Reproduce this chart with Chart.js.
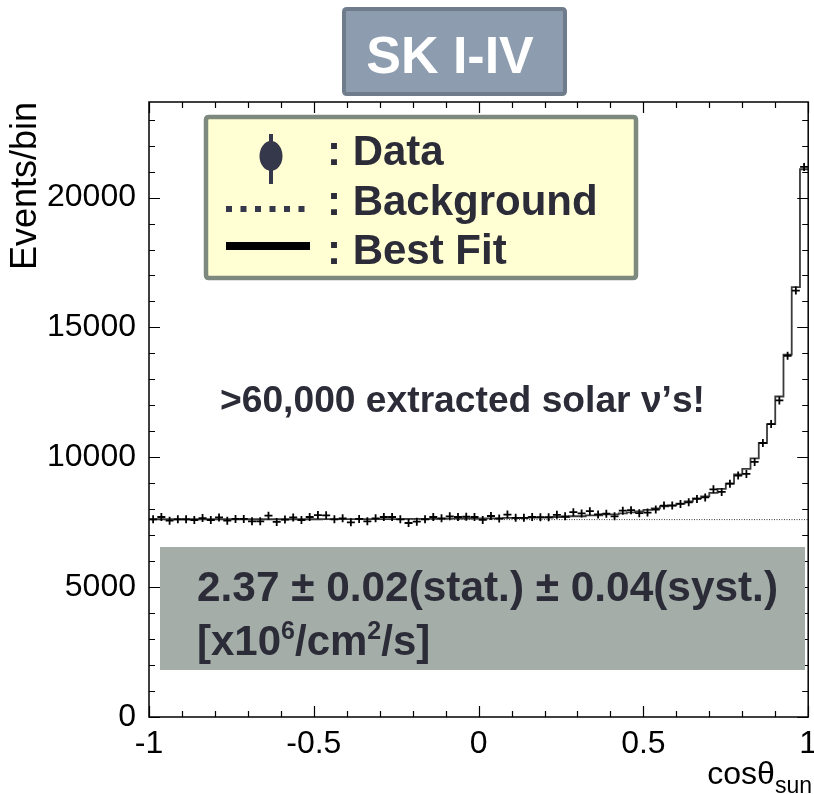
<!DOCTYPE html>
<html>
<head>
<meta charset="utf-8">
<script src="https://cdn.jsdelivr.net/npm/chart.js@4.4.1/dist/chart.umd.min.js"></script>
<style>
  html, body { margin: 0; padding: 0; background: #ffffff; }
  #wrap { width: 814px; height: 794px; position: relative; }
</style>
</head>
<body>
<div id="wrap"><canvas id="c" width="814" height="794"></canvas></div>
<script>
// cos(theta_sun) histogram: 80 bins from -1 to 1
const binCount = 80;
const xMin = -1;
const xMax = 1;
const yMin = 0;
const yMax = 23680;

// Observed events per bin
const dataCounts = [
  7610, 7700, 7560, 7610, 7610, 7585, 7660, 7585, 7685, 7560,
  7625, 7625, 7535, 7535, 7750, 7510, 7600, 7685, 7585, 7700,
  7775, 7765, 7610, 7650, 7495, 7625, 7535, 7650, 7700, 7700,
  7610, 7470, 7520, 7610, 7700, 7650, 7725, 7700, 7710, 7700,
  7590, 7740, 7640, 7795, 7670, 7670, 7700, 7695, 7695, 7785,
  7725, 7885, 7840, 7925, 7800, 7830, 7725, 7945, 7965, 7850,
  7870, 7990, 8140, 8140, 8205, 8265, 8395, 8455, 8765, 8665,
  8985, 9295, 9360, 9820, 10550, 11280, 12190, 13910, 16420, 21180
];

// Best-fit expectation per bin (signal + background)
const fitCounts = [
  7615, 7615, 7615, 7615, 7615, 7615, 7615, 7615, 7615, 7615,
  7615, 7615, 7615, 7615, 7615, 7615, 7615, 7615, 7615, 7615,
  7615, 7620, 7620, 7620, 7620, 7620, 7620, 7620, 7620, 7620,
  7620, 7630, 7630, 7630, 7630, 7630, 7640, 7640, 7640, 7640,
  7650, 7650, 7650, 7665, 7665, 7665, 7680, 7680, 7680, 7700,
  7700, 7730, 7730, 7760, 7760, 7800, 7800, 7840, 7880, 7920,
  7975, 8035, 8110, 8150, 8215, 8305, 8420, 8495, 8630, 8780,
  8985, 9340, 9550, 9960, 10550, 11280, 12340, 13950, 16550, 21090
];

// Flat background level
const backgroundLevel = 7600;

const xTickValues = [-1, -0.5, 0, 0.5, 1];
const xTickLabels = ['-1', '-0.5', '0', '0.5', '1'];
const yTickValues = [0, 5000, 10000, 15000, 20000];
const yTickLabels = ['0', '5000', '10000', '15000', '20000'];

const titleText = 'SK I-IV';
const legendLabels = [': Data', ': Background', ': Best Fit'];
const noteText = '>60,000 extracted solar \u03BD\u2019s!';
const fluxText = '2.37 \u00B1 0.02(stat.) \u00B1 0.04(syst.)';
const yTitle = 'Events/bin';

const FONT = "'Liberation Sans', Arial, Helvetica, sans-serif";
const INK = '#2b2c38';

const binWidth = (xMax - xMin) / binCount;
const binLow = i => xMin + i * binWidth;

const dataPoints = dataCounts.map((v, i) => ({ x: binLow(i) + binWidth / 2, y: v }));
const fitPoints = fitCounts.map((v, i) => ({ x: binLow(i), y: v }));
fitPoints.push({ x: xMax, y: fitCounts[fitCounts.length - 1] });
const bgPoints = [{ x: xMin, y: backgroundLevel }, { x: xMax, y: backgroundLevel }];

function fitText(ctx, text, x, y, width) {
  const w = ctx.measureText(text).width;
  ctx.save();
  ctx.translate(x, y);
  if (width && Math.abs(w - width) > 1) ctx.scale(width / w, 1);
  ctx.fillText(text, 0, 0);
  ctx.restore();
}

function roundRect(ctx, x, y, w, h, r) {
  ctx.beginPath();
  ctx.moveTo(x + r, y);
  ctx.lineTo(x + w - r, y);
  ctx.quadraticCurveTo(x + w, y, x + w, y + r);
  ctx.lineTo(x + w, y + h - r);
  ctx.quadraticCurveTo(x + w, y + h, x + w - r, y + h);
  ctx.lineTo(x + r, y + h);
  ctx.quadraticCurveTo(x, y + h, x, y + h - r);
  ctx.lineTo(x, y + r);
  ctx.quadraticCurveTo(x, y, x + r, y);
  ctx.closePath();
}

const frameAndTicks = {
  id: 'frameAndTicks',
  afterDatasetsDraw(chart) {
    const { ctx, chartArea: a, scales: { x, y } } = chart;
    ctx.save();
    ctx.strokeStyle = '#000';
    ctx.lineWidth = 1.5;
    ctx.strokeRect(a.left, a.top, a.right - a.left, a.bottom - a.top);
    ctx.lineWidth = 1.2;
    ctx.beginPath();
    // x ticks every 0.1, major every 0.5, on bottom and top edges
    for (let i = 0; i <= 20; i++) {
      const px = Math.round(x.getPixelForValue(xMin + i * 0.1)) + 0.5;
      const len = i % 5 === 0 ? 11 : 6;
      ctx.moveTo(px, a.bottom); ctx.lineTo(px, a.bottom - len);
      ctx.moveTo(px, a.top); ctx.lineTo(px, a.top + len);
    }
    // y ticks every 1000, major every 5000, on left and right edges
    for (let v = 0; v <= yMax; v += 1000) {
      const py = Math.round(y.getPixelForValue(v)) + 0.5;
      const len = v % 5000 === 0 ? 11 : 6;
      ctx.moveTo(a.left, py); ctx.lineTo(a.left + len, py);
      ctx.moveTo(a.right, py); ctx.lineTo(a.right - len, py);
    }
    ctx.stroke();
    ctx.restore();
  },
  afterDraw(chart) {
    const { ctx } = chart;
    ctx.save();

    // x-axis title: cos(theta) with "sun" subscript, right aligned
    ctx.fillStyle = '#000';
    ctx.textBaseline = 'alphabetic';
    ctx.textAlign = 'left';
    ctx.font = `32px ${FONT}`;
    const main = 'cos\u03B8';
    const wMain = ctx.measureText(main).width;
    ctx.font = `23px ${FONT}`;
    const wSub = ctx.measureText('sun').width;
    const x0 = 812 - wMain - wSub;
    ctx.font = `32px ${FONT}`;
    ctx.fillText(main, x0, 784);
    ctx.font = `23px ${FONT}`;
    ctx.fillText('sun', x0 + wMain, 793);

    // title box
    roundRect(ctx, 344, 9, 221, 85, 3);
    ctx.fillStyle = '#8e9cb0';
    ctx.fill();
    ctx.lineWidth = 4;
    ctx.strokeStyle = '#6f7c8c';
    ctx.stroke();
    ctx.fillStyle = '#ffffff';
    ctx.font = `bold 52px ${FONT}`;
    ctx.textAlign = 'center';
    ctx.fillText(titleText, 450, 73);

    // legend box
    ctx.textAlign = 'left';
    roundRect(ctx, 206, 117, 430, 161, 3);
    ctx.fillStyle = '#ffffd3';
    ctx.fill();
    ctx.lineWidth = 4.5;
    ctx.strokeStyle = '#7d887f';
    ctx.stroke();

    // legend symbol: data point with error bar
    ctx.fillStyle = '#35374a';
    ctx.fillRect(269, 134, 4, 50);
    ctx.beginPath();
    ctx.ellipse(271, 156, 11.5, 15, 0, 0, Math.PI * 2);
    ctx.fill();
    // legend symbol: dotted background line
    ctx.strokeStyle = '#35374a';
    ctx.lineWidth = 6;
    ctx.setLineDash([6, 8.5]);
    ctx.beginPath();
    ctx.moveTo(226, 209);
    ctx.lineTo(310, 209);
    ctx.stroke();
    ctx.setLineDash([]);
    // legend symbol: best fit line
    ctx.fillStyle = '#000';
    ctx.fillRect(226, 242, 84, 8);

    ctx.fillStyle = INK;
    ctx.font = `bold 42px ${FONT}`;
    ctx.fillText(legendLabels[0], 327, 165);
    ctx.fillText(legendLabels[1], 327, 215);
    ctx.fillText(legendLabels[2], 327, 264);

    // annotation
    ctx.font = `bold 36px ${FONT}`;
    fitText(ctx, noteText, 220, 412, 485);

    // flux result box
    ctx.fillStyle = '#a4ada7';
    ctx.fillRect(160, 547, 645, 123);
    ctx.fillStyle = INK;
    ctx.font = `bold 42px ${FONT}`;
    fitText(ctx, fluxText, 197, 601, 581);

    // [x10^6/cm^2/s]
    let cx = 197;
    const base = 655;
    const parts = [['[x10', false], ['6', true], ['/cm', false], ['2', true], ['/s]', false]];
    for (const [t, sup] of parts) {
      ctx.font = sup ? `bold 25px ${FONT}` : `bold 42px ${FONT}`;
      ctx.fillText(t, cx, sup ? base - 16 : base);
      cx += ctx.measureText(t).width;
    }
    ctx.restore();
  }
};

new Chart(document.getElementById('c'), {
  type: 'scatter',
  data: {
    datasets: [
      {
        label: 'Data',
        data: dataPoints,
        pointStyle: 'cross',
        pointRadius: 4,
        pointBorderWidth: 1.8,
        borderColor: '#000',
        backgroundColor: '#000',
        showLine: false,
        order: 0
      },
      {
        label: 'Background',
        type: 'line',
        data: bgPoints,
        borderColor: '#333',
        borderWidth: 1,
        borderDash: [1, 1.5],
        pointRadius: 0,
        order: 1
      },
      {
        label: 'Best Fit',
        type: 'line',
        data: fitPoints,
        stepped: 'before',
        borderColor: '#3a3a3a',
        borderWidth: 1.8,
        pointRadius: 0,
        fill: false,
        order: 2
      }
    ]
  },
  options: {
    responsive: false,
    animation: false,
    devicePixelRatio: 1,
    events: [],
    layout: { padding: { top: 102, right: 4, bottom: 0, left: 0 } },
    plugins: { legend: { display: false }, tooltip: { enabled: false } },
    scales: {
      x: {
        type: 'linear',
        min: xMin,
        max: xMax,
        grid: { display: false, drawTicks: false },
        border: { display: false },
        afterBuildTicks: s => { s.ticks = xTickValues.map(v => ({ value: v })); },
        afterFit: s => { s.height = 77; s.paddingLeft = 0; s.paddingRight = 0; },
        ticks: {
          autoSkip: false,
          maxRotation: 0,
          padding: 8,
          color: '#000',
          font: { family: FONT, size: 32 },
          callback: (v, i) => xTickLabels[i]
        }
      },
      y: {
        type: 'linear',
        min: yMin,
        max: yMax,
        grid: { display: false, drawTicks: false },
        border: { display: false },
        afterBuildTicks: s => { s.ticks = yTickValues.map(v => ({ value: v })); },
        afterFit: s => { s.width = 149; s.paddingTop = 0; s.paddingBottom = 0; },
        ticks: {
          autoSkip: false,
          padding: 13,
          color: '#000',
          font: { family: FONT, size: 32 },
          callback: (v, i) => yTickLabels[i]
        },
        title: {
          display: true,
          text: yTitle,
          align: 'end',
          color: '#000',
          font: { family: FONT, size: 36 },
          padding: { top: 4, bottom: 0 }
        }
      }
    }
  },
  plugins: [frameAndTicks]
});
</script>
</body>
</html>
